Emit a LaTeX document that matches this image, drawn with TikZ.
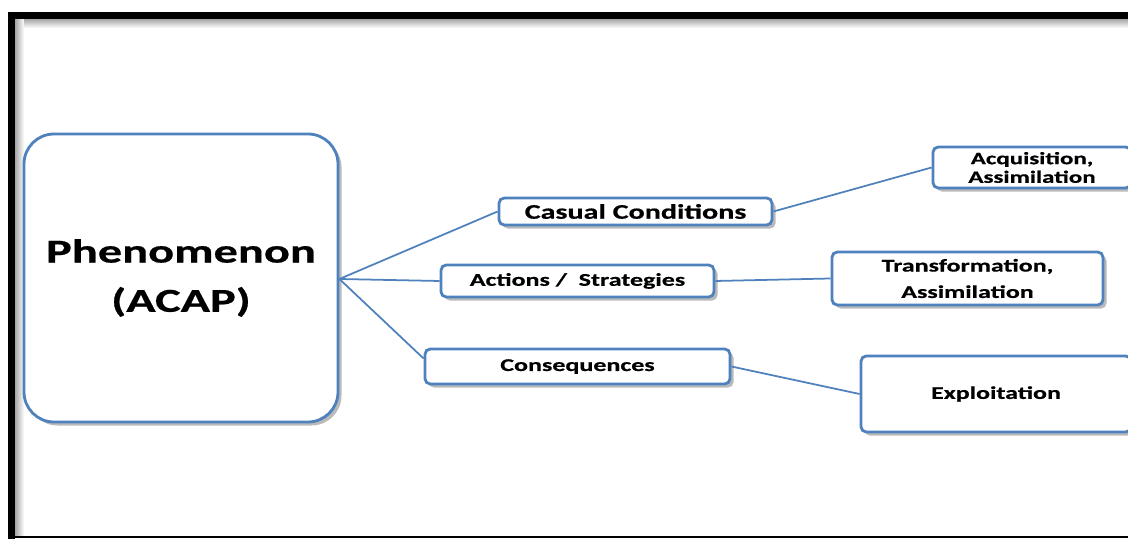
\documentclass[tikz,border=0pt]{standalone}
\usepackage{fontspec}
\newfontfamily\diagfont{Carlito}[FakeStretch=1.45,BoldFeatures={FakeBold=0.6}]
\usetikzlibrary{positioning,shadows}
\definecolor{boxblue}{HTML}{4F81BD}

\tikzset{
  box/.style={draw=boxblue,line width=1.6pt,fill=white,rounded corners=3pt,align=center,
    inner sep=1pt,font=\diagfont\bfseries\fontsize{10.2}{12}\selectfont,
    drop shadow={shadow xshift=2pt,shadow yshift=-2pt,opacity=.45,fill=black!60}},
  link/.style={draw=boxblue,line width=1pt}
}

\begin{document}
\begin{tikzpicture}
\useasboundingbox (0,0) rectangle (22.56,-10.78);
\clip (0,0) rectangle (22.56,-10.78);
% frame
\shade[top color=black!35,bottom color=white] (0.30,-0.38) rectangle (22.56,-0.56);
\shade[left color=black!35,right color=white] (0.30,-0.38) rectangle (0.48,-10.72);
\fill[black] (0.16,-0.24) rectangle (22.56,-0.38);
\fill[black] (0.16,-0.24) rectangle (0.30,-10.78);
\fill[black] (0.16,-10.73) rectangle (22.56,-10.77);
% nodes
\node[box,rounded corners=0.6cm,minimum width=6.28cm,minimum height=5.76cm,
  font=\diagfont\bfseries\fontsize{19}{28}\selectfont] (ph) at (3.62,-5.56) {Phenomenon\\(ACAP)};
\node[box,minimum width=5.46cm,minimum height=0.54cm,
  font=\diagfont\bfseries\fontsize{11.8}{12}\selectfont] (cc1) at (12.71,-4.23) {Casual Conditions};
\node[box,minimum width=5.46cm,minimum height=0.64cm] (cc2) at (11.55,-5.62) {Actions /\ \ Strategies};
\node[box,minimum width=6.10cm,minimum height=0.70cm] (cc3) at (11.55,-7.33) {Consequences};
\node[box,minimum width=3.96cm,minimum height=0.82cm,
  font=\diagfont\bfseries\fontsize{9.8}{10.6}\selectfont] (rs1) at (20.64,-3.35) {Acquisition,\\Assimilation};
\node[box,minimum width=5.42cm,minimum height=1.06cm,
  font=\diagfont\bfseries\fontsize{10.2}{15}\selectfont] (rs2) at (19.35,-5.57) {Transformation,\\Assimilation};
\node[box,minimum width=5.40cm,minimum height=1.52cm] (rs3) at (19.92,-7.88) {Exploitation};
% connectors
\draw[link] ([yshift=-0.02cm]ph.east) -- (cc1.west);
\draw[link] ([yshift=-0.02cm]ph.east) -- (cc2.west);
\draw[link] ([yshift=-0.02cm]ph.east) -- ([yshift=0.16cm]cc3.west);
\draw[link] (cc1.east) -- (rs1.west);
\draw[link] (cc2.east) -- (rs2.west);
\draw[link] (cc3.east) -- (rs3.west);
\end{tikzpicture}
\end{document}
